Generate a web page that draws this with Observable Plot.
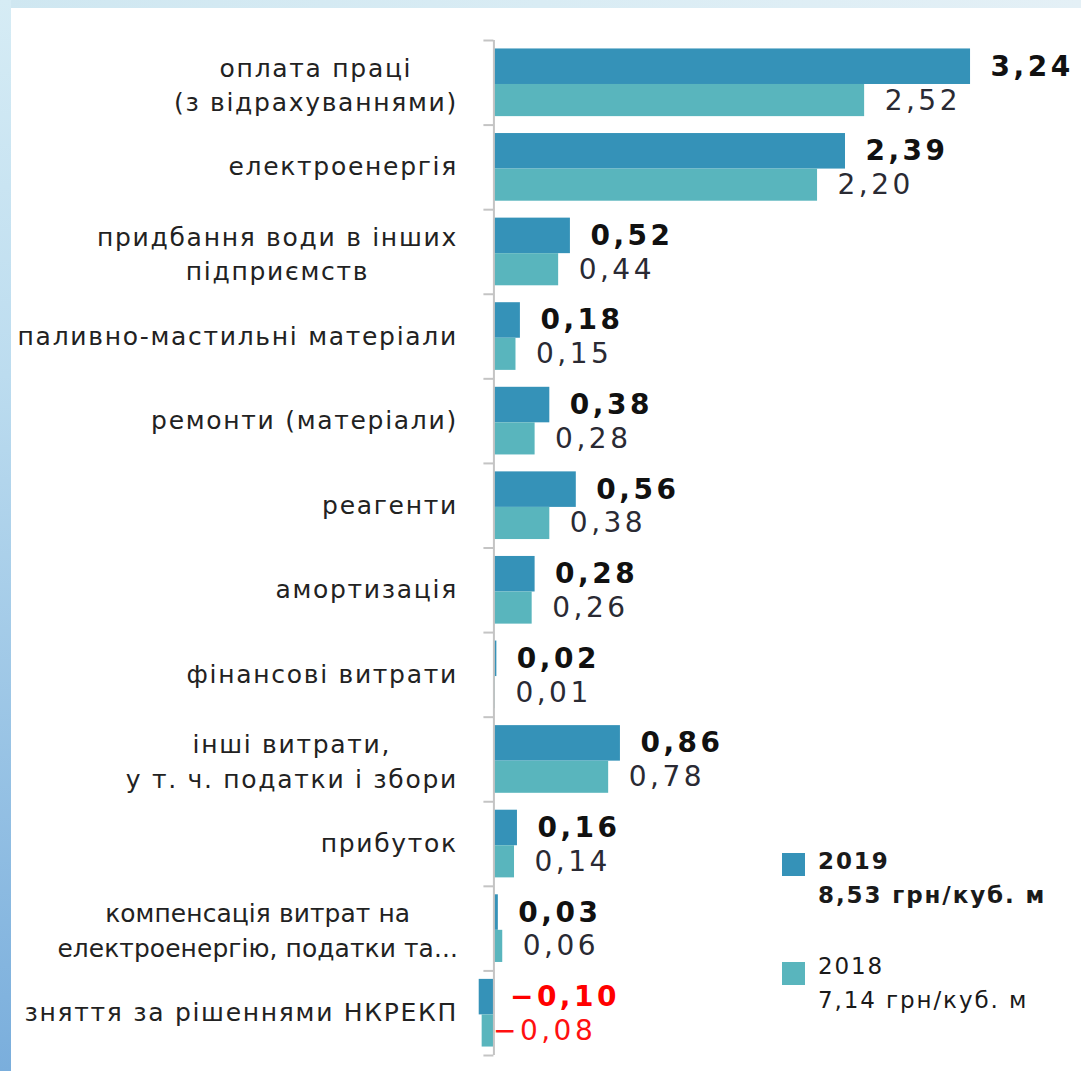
<!DOCTYPE html>
<html><head><meta charset="utf-8">
<script src="https://cdn.jsdelivr.net/npm/d3@7"></script>
<script src="https://cdn.jsdelivr.net/npm/@observablehq/plot@0.6"></script>
<style>
body{margin:0;background:#fff;}
#wrap{position:relative;width:1081px;height:1071px;background:#fff;overflow:hidden;font-family:"DejaVu Sans",sans-serif;}
#top{position:absolute;left:0;top:0;width:1081px;height:8px;background:linear-gradient(90deg,#cfe7f1,#d9ecf4 50%,#e4f0f6);}
#left{position:absolute;left:0;top:0;width:11px;height:1071px;background:linear-gradient(180deg,#d6ecf5,#bcdcef 35%,#7aaedc);}
#chart{position:absolute;left:11px;top:8px;}
#chart g[font-size="28"]{letter-spacing:3.5px;}
#chart g[font-size="24.9"]{letter-spacing:0.1px;}
.leg{position:absolute;left:782px;}
.leg .sw{position:absolute;left:0;width:23px;height:23px;}
.leg .tx{position:absolute;left:36px;top:0;font-size:23px;letter-spacing:1.9px;line-height:34px;white-space:nowrap;color:#1a1a1a;}
</style></head>
<body><div id="wrap"><div id="top"></div><div id="left"></div><div id="chart"></div>
<div id="legend"></div></div>
<script>
const categories = [
  "оплата праці\n(з відрахуваннями)",
  "електроенергія",
  "придбання води в інших\nпідприємств",
  "паливно-мастильні матеріали",
  "ремонти (матеріали)",
  "реагенти",
  "амортизація",
  "фінансові витрати",
  "інші витрати,\nу т. ч. податки і збори",
  "прибуток",
  "компенсація витрат на\nелектроенергію, податки та...",
  "зняття за рішеннями НКРЕКП"
];
const v2019 = [3.24, 2.39, 0.52, 0.18, 0.38, 0.56, 0.28, 0.02, 0.86, 0.16, 0.03, -0.10];
const v2018 = [2.52, 2.20, 0.44, 0.15, 0.28, 0.38, 0.26, 0.01, 0.78, 0.14, 0.06, -0.08];
const years = ["2019", "2018"];
const totals = ["8,53 грн/куб. м", "7,14 грн/куб. м"];
const colors = ["#3592b8", "#59b5bd"];

const fmt = v => d3.format(".2f")(v).replace(".", ",");
const rows = categories.flatMap((c, i) => [
  {i, c, year: years[0], v: v2019[i]},
  {i, c, year: years[1], v: v2018[i]}
]);
const pos = d => d.year === years[0] ? [0.1, 0.52] : [0.52, 0.9];

const FONT = '"DejaVu Sans", sans-serif';
const CAT_LS = 1.7;
const ctx = document.createElement("canvas").getContext("2d");
const measure = (s, size, ls) => { ctx.font = `${size}px ${FONT}`; return ctx.measureText(s).width + s.length * ls; };

const catMarks = categories.map((c, i) => {
  const lines = c.split("\n");
  const tight = i === 10;
  const size = tight ? 24.9 : 25, ls = tight ? 0.1 : CAT_LS;
  if (lines.length === 1) {
    return Plot.text([c], {x: 0, y: i + 0.5, text: d => d, dx: -36, textAnchor: "end",
      fontSize: size, fill: "#222"});
  }
  const w = Math.max(...lines.map(s => measure(s, size, ls)));
  return Plot.text([c], {x: 0, y: i + 0.5, text: d => d, dx: -36 - w / 2, textAnchor: "middle",
    lineHeight: 1.38, fontSize: size, fill: "#222"});
});

const chart = Plot.plot({
  width: 1070, height: 1063,
  marginTop: 32, marginBottom: 16, marginLeft: 453, marginRight: 58,
  x: {domain: [-0.2, 3.6], axis: null},
  y: {domain: [0, 12], reverse: true, axis: null},
  color: {domain: years, range: colors},
  style: {background: "transparent", fontFamily: FONT, letterSpacing: CAT_LS + "px"},
  marks: [
    Plot.rectX(rows, {x1: 0, x2: "v", y1: d => d.i + pos(d)[0], y2: d => d.i + pos(d)[1], fill: "year"}),
    Plot.ruleY(d3.range(13), {y: d => d, x1: -0.068, x2: 0, stroke: "#c4c4c4", strokeWidth: 2}),
    Plot.ruleX([0], {y1: 0, y2: 12, stroke: "#c4c4c4", strokeWidth: 2}),
    ...catMarks,
    Plot.text(rows.filter(d => d.v >= 0 && d.year === years[0]), {x: "v", y: d => d.i + 0.31, text: d => fmt(d.v),
      dx: 20, textAnchor: "start", fontSize: 28, fontWeight: "bold", fill: "#111"}),
    Plot.text(rows.filter(d => d.v >= 0 && d.year === years[1]), {x: "v", y: d => d.i + 0.71, text: d => fmt(d.v),
      dx: 20, textAnchor: "start", fontSize: 28, fill: "#2a2a33"}),
    Plot.text(rows.filter(d => d.v < 0 && d.year === years[0]), {x: 0, y: d => d.i + 0.31, text: d => fmt(d.v),
      dx: 16, textAnchor: "start", fontSize: 28, fontWeight: "bold", fill: "#ff0000"}),
    Plot.text(rows.filter(d => d.v < 0 && d.year === years[1]), {x: 0, y: d => d.i + 0.71, text: d => fmt(d.v),
      dx: -1, textAnchor: "start", fontSize: 28, fill: "#ff1010"})
  ]
});
document.getElementById("chart").appendChild(chart);

const leg = document.getElementById("legend");
const legTops = [844, 949];
years.forEach((y, j) => {
  const d = document.createElement("div");
  d.className = "leg";
  d.style.top = legTops[j] + "px";
  d.innerHTML = `<div class="sw" style="top:${j === 0 ? 9 : 13}px;background:${colors[j]}"></div>
    <div class="tx" style="font-weight:${j === 0 ? "bold" : "normal"}">${y}<br>${totals[j]}</div>`;
  leg.appendChild(d);
});
</script></body></html>
